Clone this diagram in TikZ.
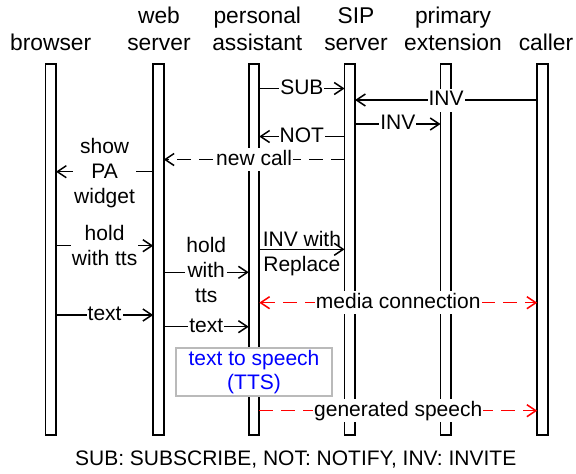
\documentclass[tikz,border=0pt]{standalone}
\usepackage{fontspec}
\setmainfont{Liberation Sans}
\usetikzlibrary{arrows.meta}
\begin{document}
\begin{tikzpicture}[x=1pt,y=-1pt,
  >={Straight Barb[length=9pt,width=12pt]},
  lifeline/.style={draw, line width=1.6pt, minimum width=10.5pt, minimum height=371pt, inner sep=0pt, outer sep=0pt},
  hdr/.style={font=\fontsize{22.8}{27}\selectfont, anchor=base, inner sep=0pt},
  msg/.style={line width=1.5pt, ->},
  dsh/.style={dash pattern=on 14pt off 8pt},
  media/.style={draw=red, dash pattern=on 14pt off 8pt},
  lbl/.style={font=\fontsize{21}{25}\selectfont, fill=white, inner xsep=1pt, inner ysep=1.5pt, text height=15.5pt, text depth=4.5pt, text=black},
  lblm/.style={font=\fontsize{21}{25}\selectfont, fill=white, inner xsep=1pt, inner ysep=1pt, align=center, text=black},
  ttsbox/.style={draw=black!27, line width=1.5pt, fill=white, text=blue, align=center, minimum width=156pt, minimum height=48pt, inner sep=0pt, font=\fontsize{21}{24}\selectfont}
]
\useasboundingbox (0,0) rectangle (576,474);

% headers
\node[hdr] (hbr) at (50.7,50) {browser};
\node[hdr] (hws1) at (159,23.3) {web};
\node[hdr] (hws2) at (159,50) {server};
\node[hdr] (hpa1) at (257.3,23.3) {personal};
\node[hdr] (hpa2) at (257.3,50) {assistant};
\node[hdr] (hsip1) at (356,23.3) {SIP};
\node[hdr] (hsip2) at (356,50) {server};
\node[hdr] (hpe1) at (453,23.3) {primary};
\node[hdr] (hpe2) at (453,50) {extension};
\node[hdr] (hca) at (546,50) {caller};

% lifelines
\node[lifeline] (br) at (50.7,249.5) {};
\node[lifeline] (ws) at (158.5,249.5) {};
\node[lifeline] (pa) at (254,249.5) {};
\node[lifeline] (sip) at (349.8,249.5) {};
\node[lifeline] (pe) at (445.8,249.5) {};
\node[lifeline] (ca) at (542.5,249.5) {};

% messages
\draw[msg] (pa.east |- 0,88.5) -- node[lbl] {SUB} (sip.west |- 0,88.5);
\draw[msg] (ca.west |- 0,100) -- node[lbl] {INV} (sip.east |- 0,100);
\draw[msg] (sip.east |- 0,124) -- node[lbl] {INV} (pe.west |- 0,124);
\draw[msg] (sip.west |- 0,136.5) -- node[lbl] {NOT} (pa.east |- 0,136.5);
\draw[msg,dsh] (sip.west |- 0,159.5) -- node[lbl] {new call} (ws.east |- 0,159.5);
\draw[msg] (ws.west |- 0,171.7) -- node[lblm, yshift=-1.1pt] {show\\PA\\widget} (br.east |- 0,171.7);
\draw[msg] (br.east |- 0,245.7) -- node[lblm] {hold\\with tts} (ws.west |- 0,245.7);
\draw[msg] (pa.east |- 0,249.3) -- node[lblm, fill=none, yshift=-4pt] {INV with\\Replace} (sip.west |- 0,249.3);
\draw[msg] (ws.east |- 0,272.3) -- node[lblm, yshift=2.8pt] {hold\\with\\tts} (pa.west |- 0,272.3);
\draw[msg,media,<->] (pa.east |- 0,302.7) -- node[lbl] {media connection} (ca.west |- 0,302.7);
\draw[msg] (br.east |- 0,315) -- node[lbl] {text} (ws.west |- 0,315);
\draw[msg] (ws.east |- 0,326.7) -- node[lbl] {text} (pa.west |- 0,326.7);

\node[ttsbox] (tts) at (254,372) {text to speech\\(TTS)};

\draw[msg,media] (pa.east |- 0,410.7) -- node[lbl] {generated speech} (ca.west |- 0,410.7);

\node[font=\fontsize{21}{25}\selectfont, anchor=base, inner sep=0pt] (legend) at (295.7,465) {SUB: SUBSCRIBE, NOT: NOTIFY, INV: INVITE};
\end{tikzpicture}
\end{document}
